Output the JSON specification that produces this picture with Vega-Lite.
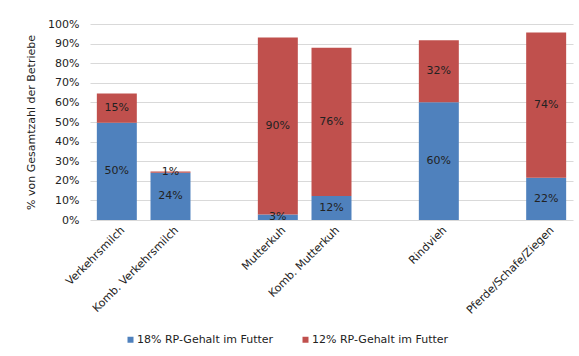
{
  "$schema": "https://vega.github.io/schema/vega-lite/v6.json",
  "width": 483,
  "height": 196,
  "autosize": {"type": "none"},
  "padding": {"left": 90, "top": 24, "right": 6, "bottom": 136},
  "background": "white",
  "config": {
    "view": {"stroke": null},
    "font": "DejaVu Sans",
    "axis": {"labelFont": "DejaVu Sans", "titleFont": "DejaVu Sans", "labelColor": "#222222", "titleColor": "#222222"},
    "legend": {"labelFont": "DejaVu Sans", "labelColor": "#222222"}
  },
  "data": {
    "values": [
      {"Kategorie": "Verkehrsmilch", "Gruppe": "18% RP-Gehalt im Futter", "Anteil": 0.496},
      {"Kategorie": "Verkehrsmilch", "Gruppe": "12% RP-Gehalt im Futter", "Anteil": 0.150},
      {"Kategorie": "Komb. Verkehrsmilch", "Gruppe": "18% RP-Gehalt im Futter", "Anteil": 0.241},
      {"Kategorie": "Komb. Verkehrsmilch", "Gruppe": "12% RP-Gehalt im Futter", "Anteil": 0.007},
      {"Kategorie": "Mutterkuh", "Gruppe": "18% RP-Gehalt im Futter", "Anteil": 0.028},
      {"Kategorie": "Mutterkuh", "Gruppe": "12% RP-Gehalt im Futter", "Anteil": 0.903},
      {"Kategorie": "Komb. Mutterkuh", "Gruppe": "18% RP-Gehalt im Futter", "Anteil": 0.122},
      {"Kategorie": "Komb. Mutterkuh", "Gruppe": "12% RP-Gehalt im Futter", "Anteil": 0.757},
      {"Kategorie": "Rindvieh", "Gruppe": "18% RP-Gehalt im Futter", "Anteil": 0.601},
      {"Kategorie": "Rindvieh", "Gruppe": "12% RP-Gehalt im Futter", "Anteil": 0.316},
      {"Kategorie": "Pferde/Schafe/Ziegen", "Gruppe": "18% RP-Gehalt im Futter", "Anteil": 0.216},
      {"Kategorie": "Pferde/Schafe/Ziegen", "Gruppe": "12% RP-Gehalt im Futter", "Anteil": 0.740}
    ]
  },
  "transform": [
    {"stack": "Anteil", "groupby": ["Kategorie"], "sort": [{"field": "Gruppe", "order": "descending"}], "as": ["lo", "hi"]}
  ],
  "encoding": {
    "x": {
      "field": "Kategorie",
      "type": "nominal",
      "sort": null,
      "scale": {
        "domain": ["Verkehrsmilch", "Komb. Verkehrsmilch", " ", "Mutterkuh", "Komb. Mutterkuh", "  ", "Rindvieh", "   ", "Pferde/Schafe/Ziegen"],
        "paddingInner": 0.255,
        "paddingOuter": 0.1275
      },
      "axis": {
        "title": null,
        "labelAngle": -45,
        "labelAlign": "right",
        "labelBaseline": "top",
        "labelFontSize": 11,
        "labelPadding": 4,
        "labelOffset": 2,
        "ticks": false,
        "domain": false,
        "grid": false
      }
    }
  },
  "resolve": {"axis": {"y": "independent"}},
  "layer": [
    {
      "mark": {"type": "bar"},
      "encoding": {
        "y": {
          "field": "lo",
          "type": "quantitative",
          "scale": {"domain": [0, 1]},
          "axis": {
            "title": "% von Gesamtzahl der Betriebe",
            "titleFontSize": 11,
            "titleFontWeight": "normal",
            "titlePadding": 11,
            "values": [0, 0.1, 0.2, 0.3, 0.4, 0.5, 0.6, 0.7, 0.8, 0.9, 1],
            "format": ".0%",
            "labelFontSize": 11,
            "labelPadding": 11,
            "labelOverlap": false,
            "ticks": false,
            "domain": false,
            "grid": true,
            "gridColor": "#D9D9D9",
            "gridWidth": 1
          }
        },
        "y2": {"field": "hi"},
        "color": {
          "field": "Gruppe",
          "type": "nominal",
          "scale": {"domain": ["18% RP-Gehalt im Futter", "12% RP-Gehalt im Futter"], "range": ["#4F81BD", "#C0504D"]},
          "legend": {
            "title": null,
            "orient": "none",
            "legendX": 35,
            "legendY": 310,
            "direction": "horizontal",
            "symbolType": "square",
            "symbolSize": 36,
            "symbolStrokeWidth": 0,
            "labelFontSize": 11,
            "labelOffset": 1,
            "columnPadding": 26,
            "padding": 0
          }
        }
      }
    },
    {
      "transform": [
        {"fold": ["lo", "hi"], "as": ["ende", "pos"]},
        {"aggregate": [{"op": "mean", "field": "pos", "as": "mitte"}], "groupby": ["Kategorie", "Gruppe", "Anteil"]}
      ],
      "mark": {"type": "text", "fontSize": 11, "color": "#222222", "baseline": "middle"},
      "encoding": {
        "y": {"field": "mitte", "type": "quantitative", "axis": null},
        "text": {"field": "Anteil", "type": "quantitative", "format": ".0%"}
      }
    }
  ]
}
